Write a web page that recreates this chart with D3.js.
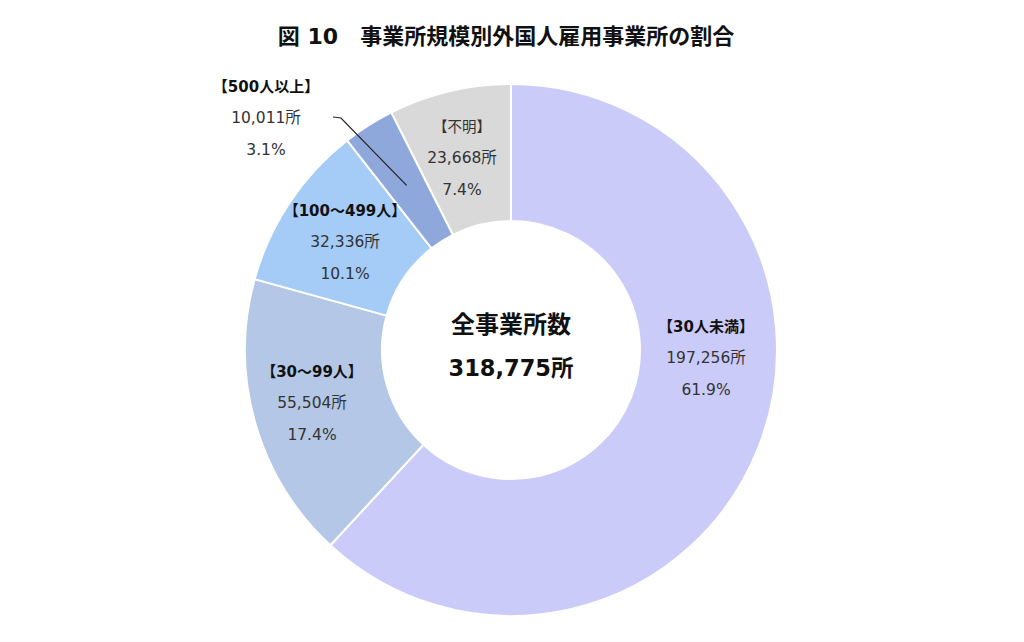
<!DOCTYPE html>
<html><head><meta charset="utf-8">
<script src="https://cdn.jsdelivr.net/npm/d3@7"></script>
<style>body{margin:0;background:#fff;}svg{display:block;}</style>
</head><body>
<svg id="c" width="1024" height="642"></svg>
<script>
const categories = ["【30人未満】", "【30～99人】", "【100～499人】", "【500人以上】", "【不明】"];
const counts = [197256, 55504, 32336, 10011, 23668];
const percents = ["61.9%", "17.4%", "10.1%", "3.1%", "7.4%"];
const colors = ["#CBCBF9", "#B4C7E6", "#A5CBF7", "#8FA8DC", "#D9D9D9"];
const titleText = "図 10　事業所規模別外国人雇用事業所の割合";
const centerTitle = "全事業所数";
const totalText = "318,775所";

// label layout (offset of label block from donut center)
const labelOffsets = [[195, 0], [-199, 45], [-166, -116], [-245, -240], [-49, -200]];
const boldTitle = [true, true, true, true, false];

const W = 1024, H = 642;
const cx = 511, cy = 350, R = 266, r = 129;
const svg = d3.select("#c");
const font = "'DejaVu Sans','Noto Sans CJK JP',sans-serif";

svg.append("text").attr("x", 506).attr("y", 44).attr("text-anchor", "middle")
  .attr("font-family", font).attr("font-weight", "bold").attr("font-size", 22)
  .attr("fill", "#111").text(titleText);

const pie = d3.pie().value(d => d).sort(null);
const arc = d3.arc().innerRadius(r).outerRadius(R);
const g = svg.append("g").attr("transform", `translate(${cx},${cy})`);
const arcs = pie(counts);
g.selectAll("path").data(arcs).enter().append("path")
  .attr("d", arc).attr("fill", (d, i) => colors[i])
  .attr("stroke", "#fff").attr("stroke-width", 2);

const fmt = d3.format(",");
arcs.forEach((a, i) => {
  const [ox, oy] = labelOffsets[i];
  const t = g.append("text").attr("text-anchor", "middle").attr("font-family", font)
    .attr("font-size", 15.5).attr("fill", "#333");
  t.append("tspan").attr("x", ox).attr("y", oy - 18)
    .attr("font-weight", boldTitle[i] ? "bold" : "normal")
    .attr("font-size", boldTitle[i] ? 15 : 14.5)
    .attr("fill", boldTitle[i] ? "#111" : "#333").text(categories[i]);
  t.append("tspan").attr("x", ox).attr("y", oy + 13).text(fmt(counts[i]) + "所");
  t.append("tspan").attr("x", ox).attr("y", oy + 45).text(percents[i]);
});

// leader line for 500人以上
const a3 = arcs[3];
const mid = (a3.startAngle + a3.endAngle) / 2;
const pr = 195;
const px = pr * Math.sin(mid), py = -pr * Math.cos(mid);
g.append("path").attr("fill", "none").attr("stroke", "#222").attr("stroke-width", 1.2)
  .attr("d", `M${-178},${-233}L${-170},${-232}L${px},${py}`);

g.append("text").attr("text-anchor", "middle").attr("font-family", font)
  .attr("font-weight", "bold").attr("font-size", 24).attr("fill", "#111")
  .attr("x", 0).attr("y", -17).text(centerTitle);
g.append("text").attr("text-anchor", "middle").attr("font-family", font)
  .attr("font-weight", "bold").attr("font-size", 22.5).attr("fill", "#111")
  .attr("x", 0).attr("y", 26).text(totalText);
</script>
</body></html>
